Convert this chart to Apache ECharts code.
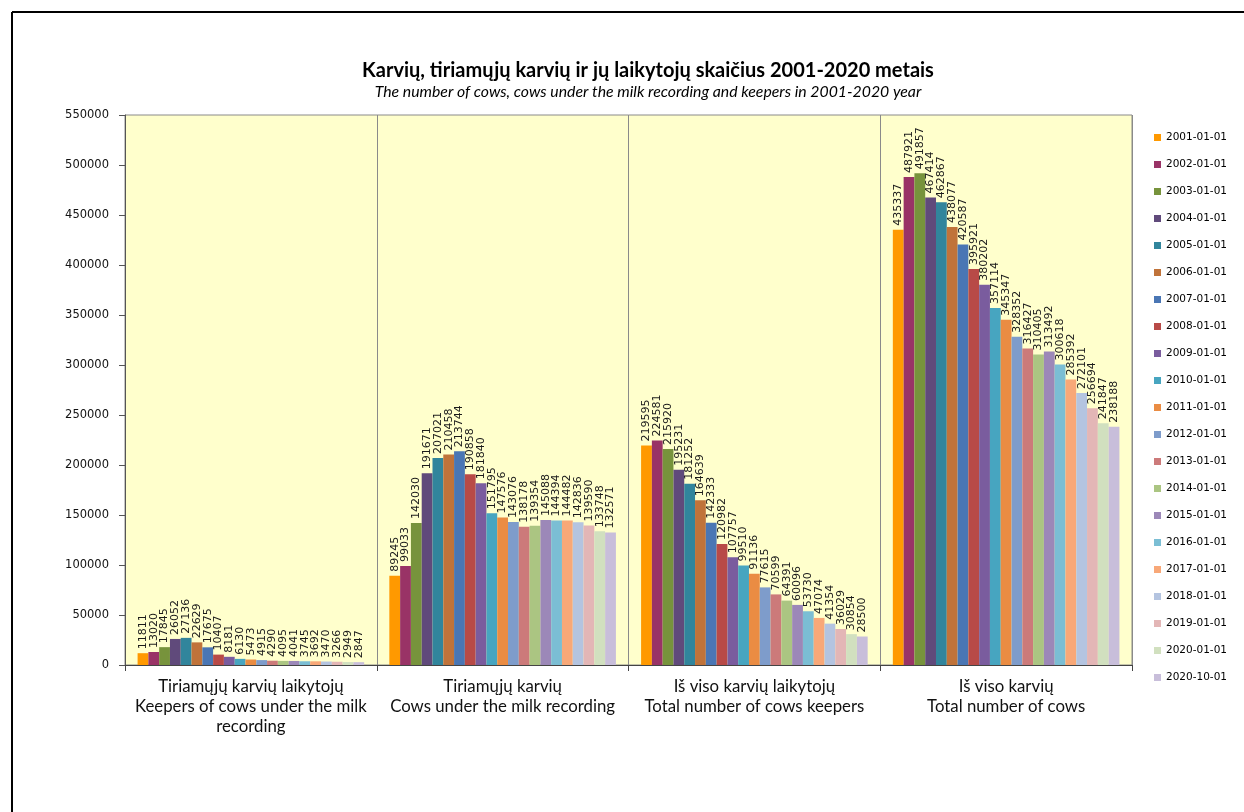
<!DOCTYPE html>
<html>
<head>
<meta charset="utf-8">
<script src="https://cdn.jsdelivr.net/npm/echarts@6/dist/echarts.min.js"></script>
<style>
html,body{margin:0;padding:0;background:#fff;}
#c{width:1244px;height:812px;}
</style>
</head>
<body>
<div id="c"></div>
<script>
const categories = [
  "Tiriamųjų karvių laikytojų\nKeepers of cows under the milk\nrecording",
  "Tiriamųjų karvių\nCows under the milk recording",
  "Iš viso karvių laikytojų\nTotal number of cows keepers",
  "Iš viso karvių\nTotal number of cows"
];
const dates = ["2001-01-01","2002-01-01","2003-01-01","2004-01-01","2005-01-01","2006-01-01","2007-01-01","2008-01-01","2009-01-01","2010-01-01","2011-01-01","2012-01-01","2013-01-01","2014-01-01","2015-01-01","2016-01-01","2017-01-01","2018-01-01","2019-01-01","2020-01-01","2020-10-01"];
const keepersRecorded = [11811,13020,17845,26052,27136,22629,17675,10407,8181,6130,5473,4915,4290,4095,4041,3745,3692,3470,3266,2949,2847];
const cowsRecorded = [89245,99033,142030,191671,207021,210458,213744,190858,181840,151795,147576,143076,138178,139354,145088,144394,144482,142836,139590,133748,132571];
const keepersTotal = [219595,224581,215920,195231,181252,164639,142333,120982,107757,99510,91136,77615,70599,64391,60096,53730,47074,41354,36029,30854,28500];
const cowsTotal = [435337,487921,491857,467414,462867,438077,420587,395921,380202,357114,345347,328352,316427,310405,313492,300618,285392,272101,256694,241847,238188];
const yTicks = [0,50000,100000,150000,200000,250000,300000,350000,400000,450000,500000,550000];

const colors = ["#FF9900","#993366","#77933C","#604A7B","#31859C","#C0733A","#4A76B4","#B84A47","#7A5C9E","#47A5C0","#EA8C43","#7E9CCB","#CC7A7A","#ABC582","#9C88B8","#7BBED4","#F8A878","#B4C4E0","#E3B6B6","#D1E0BF","#C8BEDA"];

const series = dates.map((d, i) => ({
  name: d,
  type: 'bar',
  data: [keepersRecorded[i], cowsRecorded[i], keepersTotal[i], cowsTotal[i]],
  itemStyle: { color: colors[i] },
  barGap: '0%',
  barCategoryGap: '10%',
  label: {
    show: true,
    position: 'top',
    rotate: 90,
    align: 'left',
    verticalAlign: 'middle',
    distance: 4,
    fontFamily: 'DejaVu Sans',
    fontSize: 11,
    color: '#1a1a1a'
  }
}));

const chart = echarts.init(document.getElementById('c'), null, {renderer: 'canvas'});
chart.setOption({
  animation: false,
  backgroundColor: '#ffffff',
  color: colors,
  title: [{
    text: 'Karvių, tiriamųjų karvių ir jų laikytojų skaičius 2001-2020 metais',
    left: 643,
    textAlign: 'center',
    top: 56,
    textStyle: { fontFamily: 'Lato', fontWeight: 'bold', fontSize: 20, color: '#000' }
  }, {
    text: 'The number of cows, cows under the milk recording and keepers in 2001-2020 year',
    left: 643,
    textAlign: 'center',
    top: 79,
    textStyle: { fontFamily: 'Lato', fontStyle: 'italic', fontWeight: 'normal', fontSize: 15.8, color: '#000' }
  }],
  legend: {
    orient: 'vertical',
    left: 1149,
    top: 126,
    itemWidth: 7,
    itemHeight: 7,
    itemGap: 14,
    icon: 'rect',
    textStyle: { fontFamily: 'DejaVu Sans', fontSize: 10.5, color: '#000', lineHeight: 13 },
    data: dates
  },
  grid: {
    left: 125, right: 112, top: 115, bottom: 147,
    show: true,
    backgroundColor: '#FFFFCC',
    borderColor: '#8a8a8a',
    borderWidth: 1
  },
  xAxis: {
    type: 'category',
    data: categories,
    axisLine: { lineStyle: { color: '#444' } },
    axisTick: { show: true, length: 6, lineStyle: { color: '#444' } },
    splitLine: { show: true, lineStyle: { color: '#8a8a8a', width: 1 } },
    axisLabel: {
      fontFamily: 'Lato', fontSize: 16.8, color: '#111', lineHeight: 20, margin: 12,
      interval: 0
    }
  },
  yAxis: {
    type: 'value',
    min: 0, max: 550000, interval: 50000,
    axisLine: { show: true, lineStyle: { color: '#555' } },
    axisTick: { show: true, length: 6, lineStyle: { color: '#555' } },
    splitLine: { show: false },
    axisLabel: { fontFamily: 'DejaVu Sans', fontSize: 11.5, color: '#111', margin: 16,
      formatter: v => String(v) }
  },
  graphic: [
    { type: 'line', shape: { x1: 12, y1: 12, x2: 1244, y2: 12 }, style: { stroke: '#000', lineWidth: 2 } },
    { type: 'line', shape: { x1: 12, y1: 12, x2: 12, y2: 812 }, style: { stroke: '#000', lineWidth: 2 } }
  ],
  series: series
});
</script>
</body>
</html>
